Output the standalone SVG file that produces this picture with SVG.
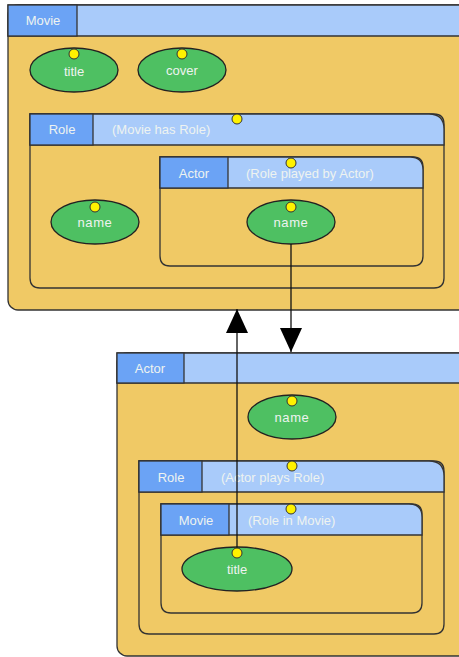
<svg xmlns="http://www.w3.org/2000/svg" width="459" height="657" viewBox="0 0 459 657">
<defs>
<style>
.box{fill:#F0C965;stroke:#333;stroke-width:1.3}
.hdr{fill:#A9CBFA;stroke:#333;stroke-width:1.3}
.lbl{fill:#6BA3F5;stroke:#333;stroke-width:1.3}
.att{fill:#4EC062;stroke:#222;stroke-width:1.3}
.dot{fill:#FFF200;stroke:#333;stroke-width:1}
text{font-family:"Liberation Sans",Arial,sans-serif;font-size:13px;fill:#EEF3F0;text-anchor:middle;dominant-baseline:central}
.t{text-anchor:start}
.conn{stroke:#111;stroke-width:1.3;fill:none}
</style>
<marker id="arr" viewBox="0 0 24 22" refX="24" refY="11" markerWidth="24" markerHeight="22" markerUnits="userSpaceOnUse" orient="auto">
<path d="M0,0 L24,11 L0,22 Z" fill="#000"/>
</marker>
</defs>
<g id="movie">
<rect class="box" x="8" y="5" width="470" height="305" rx="10"/>
<path class="hdr" d="M8,5 H468 Q478,5 478,15 V36 H8 Z"/>
<rect class="lbl" x="8" y="5" width="69" height="31"/>
<text x="43" y="20.5">Movie</text>
</g>
<g id="movie-title">
<ellipse class="att" cx="74" cy="70" rx="44" ry="22"/>
<text x="74" y="71">title</text>
<circle class="dot" cx="74" cy="54" r="5"/>
</g>
<g id="movie-cover">
<ellipse class="att" cx="182" cy="70" rx="44" ry="22"/>
<text x="182" y="70">cover</text>
<circle class="dot" cx="182" cy="54" r="5"/>
</g>
<g id="movie-role">
<path class="box" d="M30,114 H434 Q444,114 444,124 V278 Q444,288 434,288 H40 Q30,288 30,278 Z"/>
<path class="hdr" d="M30,114 H429 Q444,114 444,129 V145 H30 Z"/>
<rect class="lbl" x="30" y="114" width="63" height="31"/>
<text x="62" y="129.5">Role</text>
<text class="t" x="112" y="129.5">(Movie has Role)</text>
<circle class="dot" cx="237" cy="119" r="5"/>
</g>
<g id="movie-role-name">
<ellipse class="att" cx="95" cy="222" rx="44" ry="22"/>
<text x="95" y="222" letter-spacing="0.6">name</text>
<circle class="dot" cx="95" cy="207" r="5"/>
</g>
<g id="movie-role-actor">
<path class="box" d="M160,157 H413 Q423,157 423,167 V256 Q423,266 413,266 H170 Q160,266 160,256 Z"/>
<path class="hdr" d="M160,157 H410 Q423,157 423,170 V188 H160 Z"/>
<rect class="lbl" x="160" y="157" width="68" height="31"/>
<text x="194" y="173">Actor</text>
<text class="t" x="246" y="173">(Role played by Actor)</text>
<circle class="dot" cx="291" cy="163" r="5"/>
</g>
<g id="movie-role-actor-name">
<ellipse class="att" cx="291" cy="222" rx="44" ry="22"/>
<text x="291" y="222" letter-spacing="0.6">name</text>
<circle class="dot" cx="291" cy="207" r="5"/>
</g>
<g id="actor">
<rect class="box" x="117" y="353" width="360" height="303" rx="10"/>
<path class="hdr" d="M117,353 H467 Q477,353 477,363 V383 H117 Z"/>
<rect class="lbl" x="117" y="353" width="67" height="30"/>
<text x="150" y="368">Actor</text>
</g>
<g id="actor-name">
<ellipse class="att" cx="292" cy="417" rx="44" ry="22"/>
<text x="292" y="417" letter-spacing="0.6">name</text>
<circle class="dot" cx="292" cy="401" r="5"/>
</g>
<g id="actor-role">
<path class="box" d="M139,461 H434 Q444,461 444,471 V624 Q444,634 434,634 H149 Q139,634 139,624 Z"/>
<path class="hdr" d="M139,461 H429 Q444,461 444,476 V492 H139 Z"/>
<rect class="lbl" x="139" y="461" width="63" height="31"/>
<text x="171" y="477">Role</text>
<text class="t" x="221" y="477">(Actor plays Role)</text>
<circle class="dot" cx="292" cy="466" r="5"/>
</g>
<g id="actor-role-movie">
<path class="box" d="M161,504 H412 Q422,504 422,514 V603 Q422,613 412,613 H171 Q161,613 161,603 Z"/>
<path class="hdr" d="M161,504 H409 Q422,504 422,517 V535 H161 Z"/>
<rect class="lbl" x="161" y="504" width="68" height="31"/>
<text x="196" y="520">Movie</text>
<text class="t" x="248" y="520">(Role in Movie)</text>
<circle class="dot" cx="291" cy="509" r="5"/>
</g>
<g id="actor-role-movie-title">
<ellipse class="att" cx="237" cy="569" rx="55" ry="22"/>
<text x="237" y="569">title</text>
</g>
<g id="connectors">
<line class="conn" x1="291" y1="244" x2="291" y2="352" marker-end="url(#arr)"/>
<line class="conn" x1="237" y1="553" x2="237" y2="309" marker-end="url(#arr)"/>
</g>
<circle class="dot" cx="237" cy="553" r="5"/>
</svg>
